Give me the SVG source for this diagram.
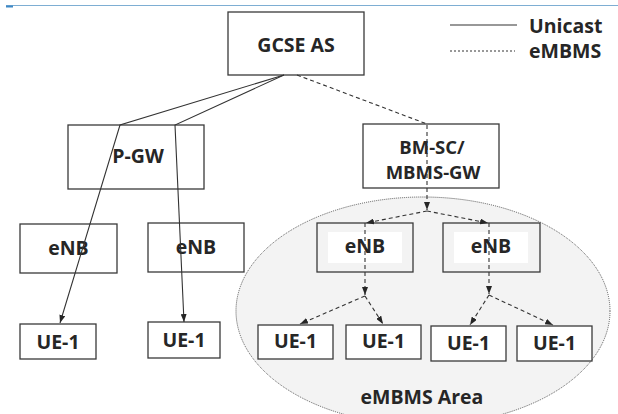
<svg xmlns="http://www.w3.org/2000/svg" width="618" height="414" viewBox="0 0 618 414">
<defs>
<style>
.box{fill:#fff;stroke:#3a3a3a;stroke-width:1.3}
.gbox{fill:#f3f3f3;stroke:#3a3a3a;stroke-width:1.3}
.t{font-family:"Open Sans","Liberation Sans",sans-serif;font-weight:bold;font-size:19.5px;fill:#262626;text-anchor:middle}
.t2{font-size:18.5px}
.lg{font-family:"Open Sans","Liberation Sans",sans-serif;font-weight:bold;font-size:19.5px;fill:#262626}
.uc{fill:none;stroke:#333;stroke-width:1.1}
.mc{fill:none;stroke:#333;stroke-width:1.1;stroke-dasharray:4 3}
</style>
<marker id="ah" viewBox="0 0 8 6" refX="8" refY="3" markerWidth="8" markerHeight="6" markerUnits="userSpaceOnUse" orient="auto">
<path d="M0,0 L8,3 L0,6 Z" fill="#262626"/>
</marker>
</defs>
<rect width="618" height="414" fill="#fff"/>
<line x1="6" y1="5.5" x2="618" y2="5.5" stroke="#7eaed3" stroke-width="1"/>
<line x1="6" y1="6.5" x2="13" y2="6.5" stroke="#3f88c5" stroke-width="2"/>

<g id="legend">
<line x1="450" y1="25" x2="517" y2="25" stroke="#333" stroke-width="1.1"/>
<text class="lg" x="529" y="33">Unicast</text>
<line x1="450" y1="51" x2="515" y2="51" stroke="#333" stroke-width="1" stroke-dasharray="2 2"/>
<text class="lg" x="529" y="58">eMBMS</text>
</g>

<g id="area">
<ellipse cx="423" cy="311" rx="187" ry="114" fill="#f3f3f3" stroke="#555" stroke-width="1" stroke-dasharray="1 1"/>
<text class="t" x="422" y="404">eMBMS Area</text>
</g>

<g id="gcse"><rect class="box" x="228" y="12" width="136" height="63"/><text class="t" x="296" y="52">GCSE AS</text></g>
<g id="pgw"><rect class="box" x="68" y="125" width="136" height="64"/><text class="t" x="138" y="163">P-GW</text></g>
<g id="bmsc"><rect class="box" x="363" y="124" width="136" height="64"/><text class="t t2" x="432" y="154">BM-SC/</text><text class="t t2" x="433" y="179">MBMS-GW</text></g>

<g id="enb1"><rect class="box" x="20" y="224" width="97" height="49"/><text class="t" x="68.5" y="255">eNB</text></g>
<g id="enb2"><rect class="box" x="148" y="223" width="96" height="49"/><text class="t" x="196" y="254">eNB</text></g>
<g id="enb3"><rect class="gbox" x="317" y="223" width="96" height="49"/><rect x="328" y="232" width="74" height="31" fill="#fff"/><text class="t" x="365" y="253">eNB</text></g>
<g id="enb4"><rect class="gbox" x="443" y="223" width="97" height="49"/><rect x="454" y="232" width="74" height="31" fill="#fff"/><text class="t" x="491" y="253">eNB</text></g>

<g id="ue1"><rect class="box" x="20" y="324" width="76" height="35"/><text class="t" x="58" y="349">UE-1</text></g>
<g id="ue2"><rect class="box" x="148" y="322" width="72" height="36"/><text class="t" x="184" y="347">UE-1</text></g>
<g id="ue3"><rect class="box" x="258" y="325" width="75" height="34"/><text class="t" x="295.5" y="348">UE-1</text></g>
<g id="ue4"><rect class="box" x="346" y="325" width="75" height="34"/><text class="t" x="383.5" y="348">UE-1</text></g>
<g id="ue5"><rect class="box" x="431" y="326" width="75" height="35"/><text class="t" x="468.5" y="350">UE-1</text></g>
<g id="ue6"><rect class="box" x="517" y="326" width="75" height="35"/><text class="t" x="554.5" y="350">UE-1</text></g>

<g id="connectors">
<polyline class="uc" points="284,75 120,125 60,323" marker-end="url(#ah)"/>
<polyline class="uc" points="284,75 175,125 184,322" marker-end="url(#ah)"/>
<polyline class="mc" points="297,75 427,124 427,210" marker-end="url(#ah)"/>
<line class="mc" x1="427" y1="211" x2="366" y2="223" marker-end="url(#ah)"/>
<line class="mc" x1="427" y1="211" x2="488" y2="223" marker-end="url(#ah)"/>
<line class="mc" x1="365" y1="223" x2="365" y2="295" marker-end="url(#ah)"/>
<line class="mc" x1="489" y1="223" x2="489" y2="294" marker-end="url(#ah)"/>
<line class="mc" x1="365" y1="296" x2="300" y2="324" marker-end="url(#ah)"/>
<line class="mc" x1="365" y1="296" x2="383" y2="324" marker-end="url(#ah)"/>
<line class="mc" x1="489" y1="295" x2="470" y2="325" marker-end="url(#ah)"/>
<line class="mc" x1="489" y1="295" x2="553" y2="325" marker-end="url(#ah)"/>
</g>
</svg>
